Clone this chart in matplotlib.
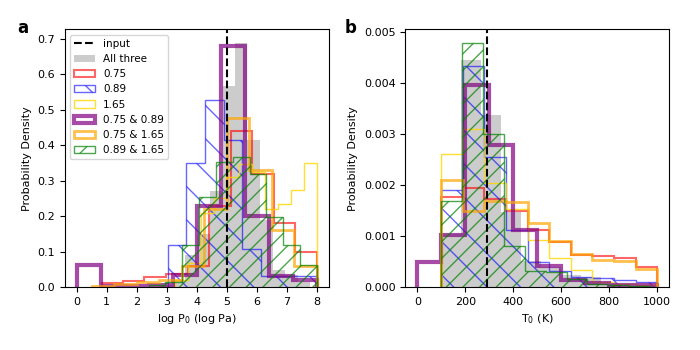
import numpy as np
import matplotlib.pyplot as plt

# ---- panel a: log P0 histograms (bin edges + densities) ----
p_all_edges = [2.76, 3.18, 3.60, 4.02, 4.44, 4.86, 5.28, 5.69, 6.11, 6.53, 6.95, 7.37, 7.79]
p_all = [0.005, 0.02, 0.09, 0.15, 0.27, 0.567, 0.69, 0.416, 0.19, 0.047, 0.033, 0.015]

p_075_edges = [0.83, 1.55, 2.26, 2.98, 3.70, 4.41, 5.13, 5.85, 6.56, 7.28, 8.0]
p_075 = [0.01, 0.017, 0.028, 0.036, 0.06, 0.23, 0.44, 0.32, 0.18, 0.10]

p_089_edges = [3.04, 3.66, 4.28, 4.90, 5.52, 6.14, 6.76, 7.38, 8.0]
p_089 = [0.118, 0.35, 0.527, 0.414, 0.108, 0.03, 0.03, 0.03]

p_165_edges = [3.27, 3.70, 4.13, 4.56, 4.99, 5.42, 5.85, 6.28, 6.71, 7.14, 7.57, 8.0]
p_165 = [0.02, 0.067, 0.21, 0.25, 0.31, 0.346, 0.325, 0.22, 0.235, 0.273, 0.35]

p_075_089_edges = [0.0, 0.8, 1.6, 2.4, 3.2, 4.0, 4.8, 5.6, 6.4, 7.2, 8.0]
p_075_089 = [0.063, 0.002, 0.003, 0.006, 0.035, 0.23, 0.68, 0.20, 0.03, 0.02]

p_075_165_edges = [0.5, 1.25, 2.0, 2.75, 3.5, 4.25, 5.0, 5.75, 6.5, 7.25, 8.0]
p_075_165 = [0.004, 0.008, 0.015, 0.02, 0.06, 0.22, 0.476, 0.33, 0.16, 0.06]

p_089_165_edges = [2.4, 2.96, 3.52, 4.08, 4.64, 5.2, 5.76, 6.32, 6.88, 7.44, 8.0]
p_089_165 = [0.005, 0.015, 0.118, 0.254, 0.353, 0.367, 0.32, 0.198, 0.118, 0.061]

p_input = 5.0

# ---- panel b: T0 histograms ----
t_all_edges = [100, 183, 266, 349, 432, 515, 598, 681, 764, 847, 930]
t_all = [0.00105, 0.00445, 0.00338, 0.00147, 0.00052, 0.00039, 0.00023, 0.0002, 0.00005, 0.00002]

t_edges_90 = [100, 190, 280, 370, 460, 550, 640, 730, 820, 910, 1000]
t_075 = [0.00176, 0.00195, 0.00172, 0.00149, 0.00111, 0.00088, 0.00062, 0.0006, 0.00057, 0.00039]
t_089 = [0.0019, 0.00434, 0.00256, 0.00111, 0.00049, 0.00032, 0.00019, 0.00017, 0.00013, 0.0001]
t_165 = [0.00262, 0.00311, 0.00205, 0.00153, 0.00092, 0.00056, 0.00033, 0.0001, 0.00005, 0.00003]
t_075_165 = [0.0021, 0.0015, 0.00168, 0.00167, 0.00126, 0.0009, 0.00065, 0.00054, 0.00052, 0.00036]

t_075_089_edges = [0, 100, 200, 300, 400, 500, 600, 700, 800, 900, 1000]
t_075_089 = [0.00049, 0.00103, 0.00397, 0.00279, 0.00111, 0.00042, 0.00013, 0.00008, 0.00004, 0.00003]

t_089_165_edges = [100, 187, 274, 361, 448, 535, 622, 709, 796, 883, 970]
t_089_165 = [0.00169, 0.0048, 0.003, 0.0008, 0.00032, 0.0003, 0.00016, 0.00006, 0.00003, 0.00002]

t_input = 290


def draw_panel(ax, d, x_input):
    # d: (all, 075, 089, 165, 075_089, 075_165, 089_165), each (edges, heights)
    ax.axvline(x_input, color='k', ls='--', lw=1.5, label='input', zorder=5)
    e, h = d[0]
    ax.hist(e[:-1], bins=e, weights=h, color='grey', alpha=0.4, label='All three')
    e, h = d[1]
    ax.hist(e[:-1], bins=e, weights=h, histtype='step', color='red', alpha=0.6, lw=1.5, label='0.75')
    e, h = d[2]
    ax.hist(e[:-1], bins=e, weights=h, histtype='step', color='blue', alpha=0.6, lw=1, hatch='\\', label='0.89')
    e, h = d[3]
    ax.hist(e[:-1], bins=e, weights=h, histtype='step', color='gold', alpha=0.8, lw=1, label='1.65')
    e, h = d[4]
    ax.hist(e[:-1], bins=e, weights=h, histtype='step', color='purple', alpha=0.7, lw=3, label='0.75 & 0.89')
    e, h = d[5]
    ax.hist(e[:-1], bins=e, weights=h, histtype='step', color='orange', alpha=0.7, lw=2, label='0.75 & 1.65')
    e, h = d[6]
    ax.hist(e[:-1], bins=e, weights=h, histtype='step', color='green', alpha=0.7, lw=1, hatch='//', label='0.89 & 1.65')


fig = plt.figure(figsize=(7, 3.5), dpi=100)
ax1 = fig.add_axes([0.0924, 0.18, 0.3772, 0.736])
ax2 = fig.add_axes([0.579, 0.18, 0.377, 0.736])

draw_panel(ax1, [(p_all_edges, p_all), (p_075_edges, p_075), (p_089_edges, p_089),
                 (p_165_edges, p_165), (p_075_089_edges, p_075_089),
                 (p_075_165_edges, p_075_165), (p_089_165_edges, p_089_165)], p_input)
ax1.set_xlim(-0.4, 8.4)
ax1.set_ylim(0, 0.727)
ax1.set_xticks(range(0, 9))
ax1.set_xlabel('log P$_0$ (log Pa)', fontsize=8)
ax1.set_ylabel('Probability Density', fontsize=8)
ax1.tick_params(labelsize=8)
ax1.legend(loc='upper left', fontsize=7.5)

draw_panel(ax2, [(t_all_edges, t_all), (t_edges_90, t_075), (t_edges_90, t_089),
                 (t_edges_90, t_165), (t_075_089_edges, t_075_089),
                 (t_edges_90, t_075_165), (t_089_165_edges, t_089_165)], t_input)
ax2.set_xlim(-50, 1050)
ax2.set_ylim(0, 0.00506)
ax2.set_xlabel('T$_0$ (K)', fontsize=8)
ax2.set_ylabel('Probability Density', fontsize=8)
ax2.tick_params(labelsize=8)

fig.text(0.025, 0.905, 'a', fontsize=12, fontweight='bold')
fig.text(0.493, 0.905, 'b', fontsize=12, fontweight='bold')

fig.savefig('out.png', dpi=100)
